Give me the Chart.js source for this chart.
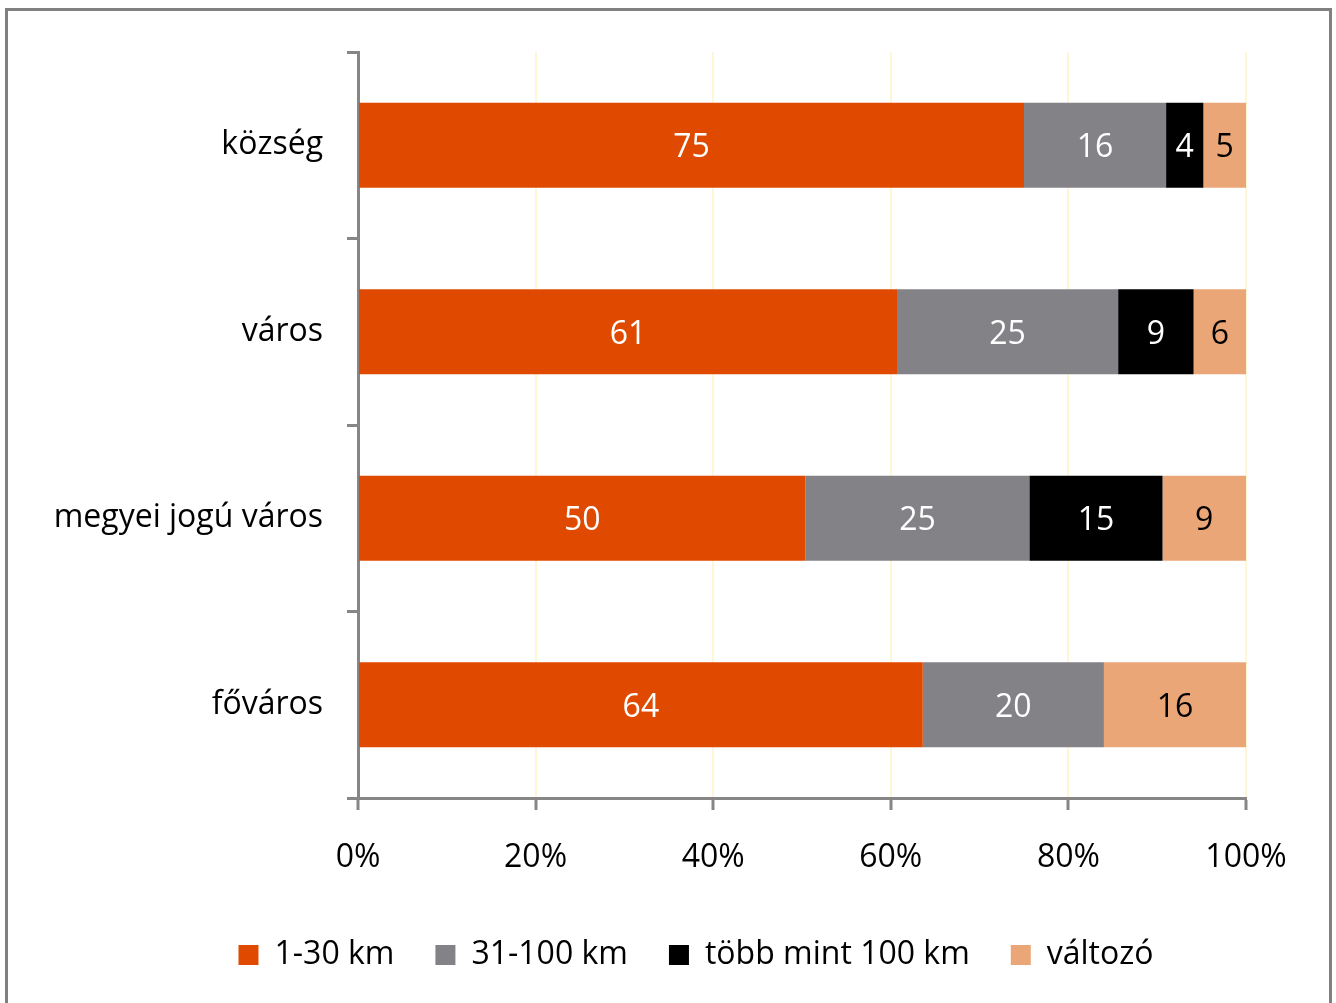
<!DOCTYPE html>
<html>
<head>
<meta charset="utf-8">
<script src="https://cdn.jsdelivr.net/npm/chart.js@4/dist/chart.umd.min.js"></script>
<style>
  html, body { margin: 0; padding: 0; background: #fff; overflow: hidden; }
  #wrap { position: relative; width: 1336px; height: 1003px; }
  #frame { position: absolute; left: 5px; top: 8px; width: 1327px; height: 1100px;
           box-sizing: border-box; border: 3px solid #808080; pointer-events: none; }
</style>
</head>
<body>
<div id="wrap">
  <canvas id="chart" width="1336" height="1003"></canvas>
  <div id="frame"></div>
</div>
<script>
// kategóriák és sorozatok (százalékos megoszlás)
const categories = ['község', 'város', 'megyei jogú város', 'főváros'];
const seriesNames = ['1-30 km', '31-100 km', 'több mint 100 km', 'változó'];
const km1_30 = [75.0, 60.7, 50.4, 63.6];
const km31_100 = [16.0, 24.9, 25.2, 20.4];
const km100plus = [4.2, 8.5, 15.0, 0];
const valtozo = [4.8, 5.9, 9.4, 16.0];
const xTicks = [0, 20, 40, 60, 80, 100];

const colors = ['#E04A00', '#838287', '#000000', '#EBA678'];
const labelColors = ['#ffffff', '#ffffff', '#ffffff', '#000000'];
const FONT = '"Open Sans"';
const SIZE = 32;

// értékek kiírása a sávok közepére
const barLabels = {
    id: 'barLabels',
    afterDatasetsDraw(chart) {
        const ctx = chart.ctx;
        ctx.save();
        ctx.font = SIZE + 'px ' + FONT;
        ctx.textAlign = 'center';
        ctx.textBaseline = 'middle';
        chart.data.datasets.forEach((ds, i) => {
            const meta = chart.getDatasetMeta(i);
            meta.data.forEach((bar, j) => {
                const v = ds.data[j];
                if (!v) return;
                ctx.fillStyle = labelColors[i];
                ctx.fillText(String(Math.round(v)), (bar.x + bar.base) / 2, bar.y + 3);
            });
        });
        ctx.restore();
    }
};

// a jelmagyarázat kicsit jobbra tolva, mint az eredetin
const legendShift = {
    id: 'legendShift',
    afterLayout(chart) {
        chart.legend.left += 73;
        chart.legend.right += 73;
    }
};

const datasets = [km1_30, km31_100, km100plus, valtozo].map((d, i) => ({
    label: seriesNames[i],
    data: d,
    backgroundColor: colors[i],
    borderWidth: 0,
    barPercentage: 0.455,
    categoryPercentage: 1
}));

new Chart(document.getElementById('chart'), {
    type: 'bar',
    data: { labels: categories, datasets: datasets },
    plugins: [barLabels, legendShift],
    options: {
        indexAxis: 'y',
        responsive: false,
        animation: false,
        layout: { padding: { top: 52, right: 90, left: 0, bottom: 22 } },
        plugins: {
            tooltip: { enabled: false },
            legend: {
                position: 'bottom',
                labels: {
                    font: { family: FONT, size: SIZE },
                    color: '#000',
                    boxWidth: 20,
                    boxHeight: 20,
                    padding: 41
                }
            }
        },
        scales: {
            x: {
                stacked: true,
                min: 0,
                max: 100,
                afterBuildTicks(scale) {
                    scale.ticks = xTicks.map(v => ({ value: v }));
                },
                afterFit(scale) { scale.height = 100; },
                grid: {
                    color: '#FFF6D5',
                    lineWidth: 2,
                    tickColor: '#868686',
                    tickLength: 12,
                    tickWidth: 3
                },
                border: { color: '#868686', width: 3 },
                ticks: {
                    font: { family: FONT, size: SIZE },
                    color: '#000',
                    padding: 29,
                    callback: v => v + '%'
                }
            },
            y: {
                stacked: true,
                afterFit(scale) { scale.width = 358; },
                grid: {
                    offset: true,
                    drawOnChartArea: false,
                    color: '#868686',
                    lineWidth: 3,
                    tickLength: 11
                },
                border: { color: '#868686', width: 3 },
                ticks: {
                    font: { family: FONT, size: SIZE },
                    color: '#000',
                    padding: 24
                }
            }
        }
    }
});
</script>
</body>
</html>
